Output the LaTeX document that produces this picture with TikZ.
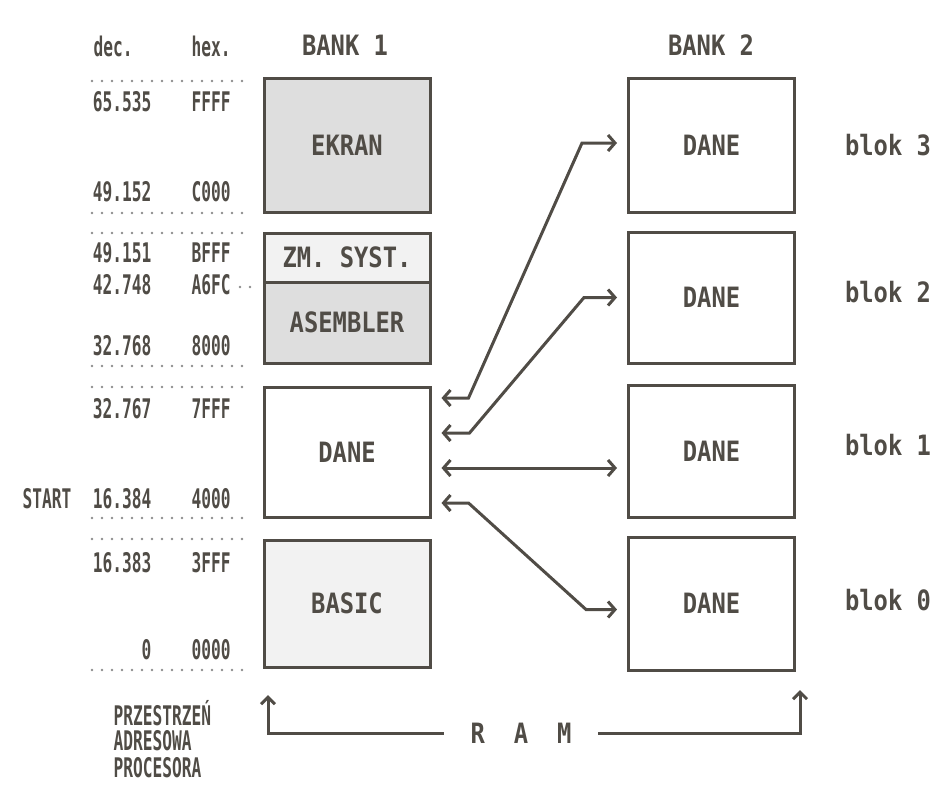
\documentclass[tikz,border=0pt]{standalone}
\usepackage{fontspec}
\newfontfamily\boxfont[FakeStretch=0.85]{DejaVu Sans Mono}
\newfontfamily\addrfont[FakeStretch=0.6]{DejaVu Sans Mono}
\usetikzlibrary{arrows.meta}

\definecolor{ink}{RGB}{80,76,70}

\begin{document}
\begin{tikzpicture}[
    x=1pt, y=-1pt,
    every node/.style={text=ink, font=\boxfont\bfseries\fontsize{28}{32}\selectfont},
    membox/.style={draw=ink, line width=3pt, minimum width=166pt, inner sep=0pt},
    dense/.style={fill=black!13},
    light/.style={fill=black!5},
    addr/.style={font=\addrfont\bfseries\fontsize{27}{30}\selectfont},
    sep/.style={draw=black!45, line width=2.8pt, line cap=round, dash pattern=on 0pt off 10pt},
    link/.style={draw=ink, line width=3pt, <->, >={Straight Barb[length=7pt, width=16pt]}, shorten <=10pt, shorten >=10pt},
    ramline/.style={draw=ink, line width=3pt, ->, >={Straight Barb[length=7pt, width=14pt]}}
]
    \useasboundingbox (0,0) rectangle (939,785);

    % Headings
    \node[addr, anchor=west] (dec) at (90,46) {dec.};
    \node[addr, anchor=west] (hex) at (188,46) {hex.};
    \node (bank1) at (345,45) {BANK 1};
    \node (bank2) at (711,45) {BANK 2};

    % Bank 1
    \node[membox, dense, minimum height=134pt] (ekran) at (347,145) {EKRAN};
    \node[membox, light, minimum height=49pt] (zmsyst) at (347,257.5) {ZM. SYST.};
    \node[membox, dense, minimum height=81pt] (asembler) at (347,322.5) {ASEMBLER};
    \node[membox, minimum height=130pt] (dane1) at (347,452) {DANE};
    \node[membox, light, minimum height=127pt] (basic) at (347,603.5) {BASIC};

    % Bank 2
    \node[membox, minimum height=134pt] (blok3) at (711.5,145) {DANE};
    \node[membox, minimum height=131pt] (blok2) at (711.5,297.5) {DANE};
    \node[membox, minimum height=132pt] (blok1) at (711.5,451) {DANE};
    \node[membox, minimum height=133pt] (blok0) at (711.5,603.5) {DANE};
    \node (b3) at (888,145) {blok 3};
    \node (b2) at (888,292) {blok 2};
    \node (b1) at (888,445) {blok 1};
    \node (b0) at (888,600) {blok 0};

    % Address space
    \foreach \y in {81,213,233,366,387,518,539,670}
        \draw[sep] (92,\y) -- (252,\y);
    \draw[sep] (240,287) -- (260,287);

    \node[addr, anchor=east] (d65535) at (155,102) {65.535};
    \node[addr, anchor=west] (hFFFF) at (188,102) {FFFF};
    \node[addr, anchor=east] (d49152) at (155,192) {49.152};
    \node[addr, anchor=west] (hC000) at (188,192) {C000};
    \node[addr, anchor=east] (d49151) at (155,253) {49.151};
    \node[addr, anchor=west] (hBFFF) at (188,253) {BFFF};
    \node[addr, anchor=east] (d42748) at (155,285) {42.748};
    \node[addr, anchor=west] (hA6FC) at (188,285) {A6FC};
    \node[addr, anchor=east] (d32768) at (155,346) {32.768};
    \node[addr, anchor=west] (h8000) at (188,346) {8000};
    \node[addr, anchor=east] (d32767) at (155,409) {32.767};
    \node[addr, anchor=west] (h7FFF) at (188,409) {7FFF};
    \node[addr, anchor=west] (start) at (19,499) {START};
    \node[addr, anchor=east] (d16384) at (155,499) {16.384};
    \node[addr, anchor=west] (h4000) at (188,499) {4000};
    \node[addr, anchor=east] (d16383) at (155,563) {16.383};
    \node[addr, anchor=west] (h3FFF) at (188,563) {3FFF};
    \node[addr, anchor=east] (d0) at (155,650) {0};
    \node[addr, anchor=west] (h0000) at (188,650) {0000};

    \node[addr, anchor=west] (przestrzen) at (110,713) {PRZESTRZEŃ};
    \node[addr, anchor=west] (adresowa) at (110,741) {ADRESOWA};
    \node[addr, anchor=west] (procesora) at (110,768) {PROCESORA};

    % Bank switching
    \draw[link] ([yshift=54pt]dane1.east) -- ++(37,0) -- ([xshift=-45pt,yshift=2pt]blok3.west) -- ([yshift=2pt]blok3.west);
    \draw[link] ([yshift=19pt]dane1.east) -- ++(38,0) -- ([xshift=-43pt]blok2.west) -- (blok2.west);
    \draw[link] ([yshift=-16pt]dane1.east) -- ([yshift=-16pt]dane1.east -| blok1.west);
    \draw[link] ([yshift=-51pt]dane1.east) -- ++(37,0) -- ([xshift=-41pt,yshift=-6pt]blok0.west) -- ([yshift=-6pt]blok0.west);

    % RAM
    \node (ram) at (521,733) {R\hspace{29pt}A\hspace{29pt}M};
    \coordinate (ramL) at (268,695);
    \coordinate (ramR) at (800,690);
    \draw[ramline] ([xshift=-23pt]ram.west) -| (ramL);
    \draw[ramline] ([xshift=23pt]ram.east) -| (ramR);

\end{tikzpicture}
\end{document}
